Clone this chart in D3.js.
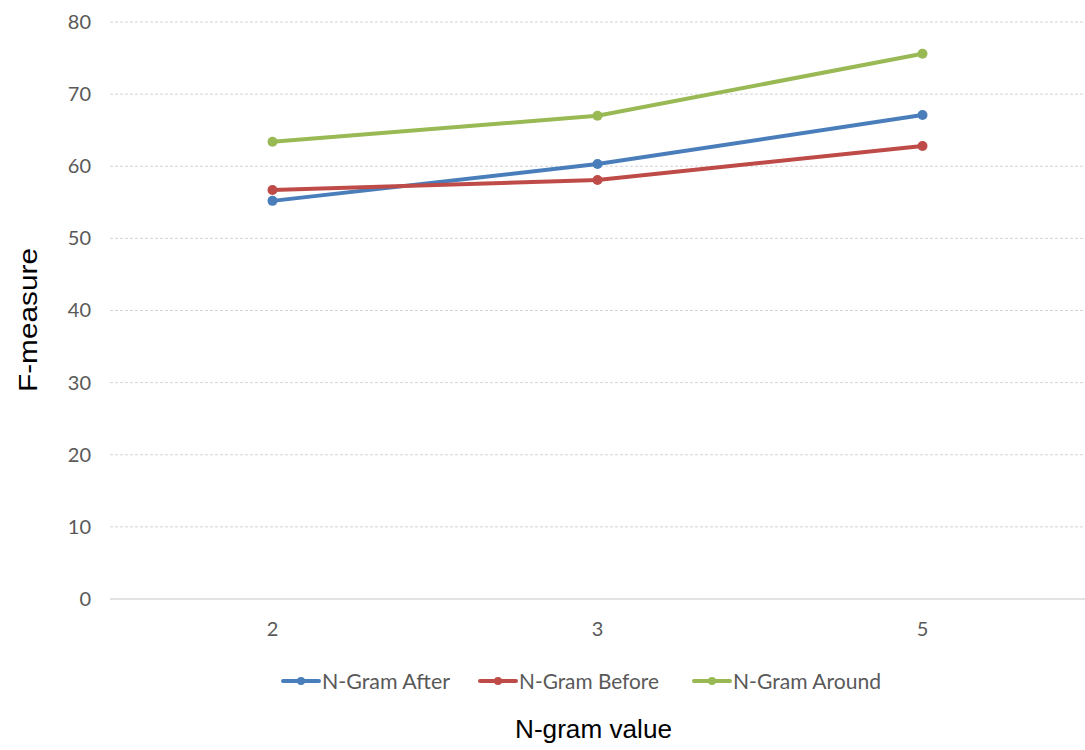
<!DOCTYPE html>
<html><head><meta charset="utf-8">
<script src="https://cdn.jsdelivr.net/npm/d3@7"></script>
<style>body{margin:0;background:#fff}</style>
</head><body>
<svg id="c" width="1085" height="750"></svg>
<script>
const categories = ["2", "3", "5"];
const seriesNames = ["N-Gram After", "N-Gram Before", "N-Gram Around"];
const afterValues = [55.2, 60.3, 67.1];
const beforeValues = [56.7, 58.1, 62.8];
const aroundValues = [63.4, 67.0, 75.6];
const yTicks = [0, 10, 20, 30, 40, 50, 60, 70, 80];
const colors = ["#4a7ebb", "#be4b48", "#98b954"];

const series = [afterValues, beforeValues, aroundValues].map((v, i) => ({name: seriesNames[i], values: v, color: colors[i]}));

const svg = d3.select("#c");
const mLeft = 110, mRight = 1085, mTop = 22, mBottom = 599;
const x = d3.scaleBand().domain(categories).range([mLeft, mRight]);
const y = d3.scaleLinear().domain([0, 80]).range([mBottom, mTop]);

// gridlines
svg.append("g").selectAll("line").data(yTicks.filter(d => d > 0)).join("line")
  .attr("x1", mLeft).attr("x2", mRight)
  .attr("y1", d => y(d)).attr("y2", d => y(d))
  .attr("stroke", "#d4d4d4").attr("stroke-width", 1).attr("stroke-dasharray", "3,2");
svg.append("line").attr("x1", mLeft).attr("x2", mRight).attr("y1", y(0)).attr("y2", y(0))
  .attr("stroke", "#d9d9d9").attr("stroke-width", 1.5);

// y axis labels
const yAxis = d3.axisLeft(y).tickValues(yTicks).tickSize(0).tickPadding(0);
const gy = svg.append("g").attr("transform", `translate(91,0)`).call(yAxis);
gy.select(".domain").remove();
gy.selectAll("text").attr("font-family", "Lato, 'Open Sans', sans-serif").attr("font-size", 20).attr("fill", "#595959");

// x axis labels
const xAxis = d3.axisBottom(x).tickSize(0).tickPadding(0);
const gx = svg.append("g").attr("transform", `translate(0,622)`).call(xAxis);
gx.select(".domain").remove();
gx.selectAll("text").attr("font-family", "Lato, 'Open Sans', sans-serif").attr("font-size", 20).attr("fill", "#595959");

// lines
const line = d3.line().x((d, i) => x(categories[i]) + x.bandwidth() / 2).y(d => y(d));
series.forEach(s => {
  svg.append("path").attr("d", line(s.values)).attr("fill", "none")
    .attr("stroke", s.color).attr("stroke-width", 4).attr("stroke-linejoin", "round").attr("stroke-linecap", "round");
  svg.append("g").selectAll("circle").data(s.values).join("circle")
    .attr("cx", (d, i) => x(categories[i]) + x.bandwidth() / 2).attr("cy", d => y(d))
    .attr("r", 5).attr("fill", s.color);
});

// legend
const legendX = [283, 480, 694];
const legendW = [128, 140, 148];
const lg = svg.append("g");
series.forEach((s, i) => {
  const g = lg.append("g").attr("transform", `translate(${legendX[i]},681)`);
  g.append("line").attr("x1", 0).attr("x2", 36).attr("y1", 0).attr("y2", 0)
    .attr("stroke", s.color).attr("stroke-width", 4).attr("stroke-linecap", "round");
  g.append("circle").attr("cx", 18).attr("cy", 0).attr("r", 4).attr("fill", s.color);
  g.append("text").attr("x", 39).attr("y", 8).text(s.name)
    .attr("textLength", legendW[i]).attr("lengthAdjust", "spacingAndGlyphs")
    .attr("font-family", "Lato, 'Open Sans', sans-serif").attr("font-size", 21).attr("fill", "#595959");
});

// axis titles
svg.append("text").attr("x", 515).attr("y", 738)
  .attr("textLength", 157).attr("lengthAdjust", "spacingAndGlyphs")
  .attr("font-family", "'Liberation Sans', Arial, sans-serif").attr("font-size", 26).attr("fill", "#000")
  .text("N-gram value");
svg.append("text").attr("transform", "translate(37,392) rotate(-90)")
  .attr("textLength", 144).attr("lengthAdjust", "spacingAndGlyphs")
  .attr("font-family", "'Liberation Sans', Arial, sans-serif").attr("font-size", 26).attr("fill", "#000")
  .text("F-measure");
</script>
</body></html>
